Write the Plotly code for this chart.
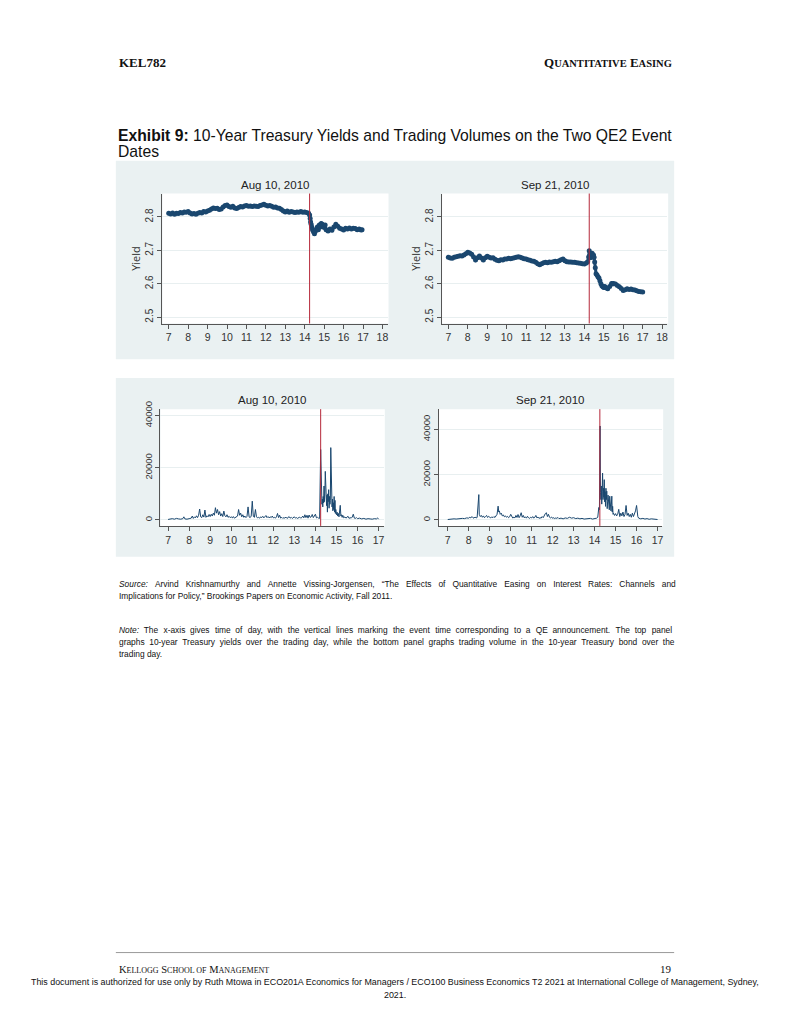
import plotly.graph_objects as go

# Page geometry (the chart is a full PDF page)
PAGE_W, PAGE_H = 791, 1024

NAVY = "#1a476f"
EVENT_RED = "#b5283a"
PANEL_BG = "#eaf1f2"
GRID = "#e8eff0"
AXIS = "#555555"

EVENT_TIME = 14.25
DATES = ["Aug 10, 2010", "Sep 21, 2010"]

YIELD_HOURS = [7, 8, 9, 10, 11, 12, 13, 14, 15, 16, 17, 18]
YIELD_TICKS = [2.5, 2.6, 2.7, 2.8]
VOL_HOURS = [7, 8, 9, 10, 11, 12, 13, 14, 15, 16, 17]
VOL_TICKS = [0, 20000, 40000]

# 10-year yield, Aug 10 2010 (hour of day, percent)
AUG_YIELD_T = [
    7.00, 7.10, 7.20, 7.30, 7.40, 7.50, 7.60, 7.70, 7.80, 7.90, 8.00, 8.10, 8.20, 8.30,
    8.40, 8.50, 8.60, 8.70, 8.80, 8.90, 9.00, 9.10, 9.20, 9.30, 9.40, 9.50, 9.60, 9.70,
    9.80, 9.90, 10.00, 10.10, 10.20, 10.30, 10.40, 10.50, 10.60, 10.70, 10.80, 10.90,
    11.00, 11.10, 11.20, 11.30, 11.40, 11.50, 11.60, 11.70, 11.80, 11.90, 12.00, 12.10,
    12.20, 12.30, 12.40, 12.50, 12.60, 12.70, 12.80, 12.90, 13.00, 13.10, 13.20, 13.30,
    13.40, 13.50, 13.60, 13.70, 13.80, 13.90, 14.00, 14.10, 14.20, 14.25, 14.28, 14.30,
    14.33, 14.36, 14.40, 14.45, 14.50, 14.55, 14.60, 14.65, 14.70, 14.75, 14.80, 14.85,
    14.90, 14.95, 15.00, 15.05, 15.10, 15.20, 15.30, 15.40, 15.50, 15.60, 15.70, 15.80,
    15.90, 16.00, 16.10, 16.20, 16.30, 16.40, 16.50, 16.60, 16.70, 16.80, 16.90, 16.95,
]
AUG_YIELD = [
    2.811, 2.809, 2.812, 2.808, 2.811, 2.810, 2.813, 2.812, 2.815, 2.814, 2.816, 2.812, 2.809, 2.810,
    2.808, 2.811, 2.813, 2.812, 2.816, 2.815, 2.818, 2.820, 2.824, 2.827, 2.825, 2.826, 2.822, 2.824,
    2.830, 2.834, 2.836, 2.831, 2.829, 2.832, 2.827, 2.825, 2.828, 2.831, 2.830, 2.833,
    2.834, 2.832, 2.833, 2.831, 2.833, 2.832, 2.831, 2.834, 2.836, 2.838, 2.835, 2.833,
    2.834, 2.832, 2.829, 2.830, 2.827, 2.826, 2.822, 2.818, 2.815, 2.818, 2.814, 2.816,
    2.815, 2.813, 2.815, 2.814, 2.816, 2.814, 2.815, 2.813, 2.811, 2.806, 2.795, 2.785,
    2.778, 2.770, 2.762, 2.756, 2.750, 2.757, 2.764, 2.770, 2.762, 2.776, 2.770, 2.780,
    2.778, 2.772, 2.768, 2.776, 2.762, 2.758, 2.764, 2.760, 2.770, 2.778, 2.772, 2.766,
    2.764, 2.761, 2.766, 2.764, 2.767, 2.764, 2.766, 2.765, 2.762, 2.764, 2.761, 2.762,
]

# 10-year yield, Sep 21 2010
SEP_YIELD_T = [
    7.00, 7.10, 7.20, 7.30, 7.40, 7.50, 7.60, 7.70, 7.80, 7.90, 8.00, 8.10, 8.20, 8.30,
    8.40, 8.50, 8.60, 8.70, 8.80, 8.90, 9.00, 9.10, 9.20, 9.30, 9.40, 9.50, 9.60, 9.70,
    9.80, 9.90, 10.00, 10.10, 10.20, 10.30, 10.40, 10.50, 10.60, 10.70, 10.80, 10.90,
    11.00, 11.10, 11.20, 11.30, 11.40, 11.50, 11.60, 11.70, 11.80, 11.90, 12.00, 12.10,
    12.20, 12.30, 12.40, 12.50, 12.60, 12.70, 12.80, 12.90, 13.00, 13.10, 13.20, 13.30,
    13.40, 13.50, 13.60, 13.70, 13.80, 13.90, 14.00, 14.10, 14.17, 14.22, 14.25, 14.28,
    14.31, 14.35, 14.40, 14.43, 14.47, 14.50, 14.53, 14.56, 14.60, 14.65, 14.70, 14.75,
    14.80, 14.85, 14.90, 14.95, 15.00, 15.05, 15.10, 15.20, 15.30, 15.40, 15.45, 15.50,
    15.60, 15.70, 15.80, 15.90, 16.00, 16.10, 16.20, 16.30, 16.40, 16.50, 16.60, 16.70,
    16.80, 16.90, 17.00,
]
SEP_YIELD = [
    2.679, 2.677, 2.676, 2.679, 2.681, 2.682, 2.684, 2.683, 2.686, 2.690, 2.694, 2.692, 2.688, 2.680,
    2.671, 2.678, 2.683, 2.677, 2.671, 2.678, 2.682, 2.679, 2.677, 2.678, 2.673, 2.670, 2.669, 2.672,
    2.671, 2.674, 2.674, 2.676, 2.675, 2.676, 2.678, 2.679, 2.681, 2.679, 2.677, 2.675,
    2.674, 2.672, 2.670, 2.668, 2.667, 2.664, 2.660, 2.657, 2.660, 2.663, 2.664, 2.663,
    2.665, 2.664, 2.666, 2.667, 2.666, 2.669, 2.672, 2.674, 2.669, 2.666, 2.665, 2.665,
    2.664, 2.664, 2.663, 2.662, 2.661, 2.660, 2.659, 2.662, 2.666, 2.680, 2.699, 2.685,
    2.678, 2.688, 2.691, 2.680, 2.686, 2.679, 2.665, 2.648, 2.630, 2.626, 2.621, 2.617,
    2.609, 2.600, 2.594, 2.591, 2.589, 2.592, 2.588, 2.585, 2.592, 2.601, 2.599, 2.601,
    2.599, 2.595, 2.591, 2.586, 2.580, 2.582, 2.585, 2.583, 2.584, 2.582, 2.581, 2.579,
    2.577, 2.576, 2.575,
]

# Trading volume, Aug 10 2010
AUG_VOL_T = [
    7.00, 7.10, 7.20, 7.30, 7.40, 7.50, 7.60, 7.70, 7.75, 7.80, 7.90, 8.00, 8.10, 8.15, 8.20,
    8.25, 8.30, 8.35, 8.40, 8.45, 8.50, 8.55, 8.60, 8.65, 8.70, 8.75, 8.80, 8.85, 8.90, 8.95,
    9.00, 9.05, 9.10, 9.15, 9.20, 9.25, 9.30, 9.35, 9.40, 9.45, 9.50, 9.55, 9.60, 9.65, 9.70,
    9.75, 9.80, 9.85, 9.90, 9.95, 10.00, 10.05, 10.10, 10.15, 10.20, 10.25, 10.30, 10.35,
    10.40, 10.45, 10.50, 10.55, 10.60, 10.65, 10.70, 10.75, 10.80, 10.85, 10.90, 10.95,
    11.00, 11.05, 11.10, 11.15, 11.20, 11.25, 11.30, 11.35, 11.40, 11.45, 11.50, 11.55,
    11.60, 11.65, 11.70, 11.75, 11.80, 11.85, 11.90, 11.95, 12.00, 12.05, 12.10, 12.15,
    12.20, 12.25, 12.30, 12.35, 12.40, 12.45, 12.50, 12.55, 12.60, 12.65, 12.70, 12.75,
    12.80, 12.85, 12.90, 12.95, 13.00, 13.05, 13.10, 13.15, 13.20, 13.25, 13.30, 13.35,
    13.40, 13.45, 13.50, 13.55, 13.60, 13.65, 13.70, 13.75, 13.80, 13.85, 13.90, 13.95,
    14.00, 14.05, 14.10, 14.15, 14.20,
    14.25, 14.27, 14.29, 14.31, 14.33, 14.35, 14.37, 14.39, 14.41, 14.43, 14.45, 14.47,
    14.49, 14.51, 14.53, 14.55, 14.57, 14.59, 14.61, 14.63, 14.65, 14.67, 14.69, 14.71,
    14.73, 14.75, 14.77, 14.79, 14.81, 14.83, 14.85, 14.87, 14.89, 14.91, 14.93, 14.95,
    14.97, 15.00, 15.03, 15.06, 15.09, 15.12, 15.15, 15.18, 15.21, 15.24, 15.27, 15.30,
    15.35, 15.40, 15.45, 15.50, 15.55, 15.60, 15.65, 15.70, 15.75, 15.80, 15.85, 15.90,
    15.95, 16.00, 16.10, 16.20, 16.30, 16.40, 16.50, 16.60, 16.70, 16.80, 16.90, 16.95,
    17.00,
]
AUG_VOL = [
    200, 300, 500, 300, 600, 400, 300, 500, 1200, 400, 300, 500, 700, 1500, 600,
    1200, 800, 1600, 900, 1800, 4200, 1200, 900, 2000, 1100, 3800, 1000, 1600, 1200, 2100,
    1300, 2200, 1500, 2600, 1800, 4700, 2600, 4000, 2000, 3200, 1500, 2400, 1300, 3400, 1600,
    1200, 2000, 1000, 1400, 900, 1200, 800, 1300, 700, 900, 1100, 1500, 4000,
    1800, 2600, 1200, 2000, 1000, 1500, 900, 1400, 5000, 1200, 900, 1500,
    7200, 1400, 1000, 4000, 1200, 800, 1000, 700, 1200, 900, 1400, 800,
    1100, 1700, 900, 1300, 800, 1200, 900, 1500, 800, 1000, 700, 1200,
    2500, 900, 1800, 700, 1000, 600, 900, 700, 1100, 600, 900, 1300,
    700, 1000, 600, 900, 1200, 700, 900, 600, 800, 1100, 700, 900,
    1500, 800, 2000, 900, 1800, 700, 1900, 1000, 1200, 2100, 900, 1500,
    2200, 800, 1000, 700, 600,
    27000, 12000, 19000, 6000, 8000, 5000, 9000, 6500, 13000, 7000, 10000, 18600,
    8000, 12000, 5500, 9500, 3000, 10000, 7000, 11600, 4500, 9000, 6000, 7500,
    27700, 12000, 22000, 5000, 8000, 3500, 6600, 4000, 9000, 3000, 7500, 2500,
    4000, 2000, 3000, 1500, 2500, 1200, 3500, 5600, 1500, 2000, 1000, 1800,
    800, 1200, 700, 900, 1400, 600, 900, 700, 1100, 2200, 700, 600,
    900, 500, 700, 400, 600, 300, 500, 400, 300, 500, 400, 800,
    300,
]

# Trading volume, Sep 21 2010
SEP_VOL_T = [
    7.00, 7.10, 7.20, 7.30, 7.40, 7.50, 7.60, 7.70, 7.80, 7.90, 8.00, 8.05, 8.10, 8.15, 8.20,
    8.25, 8.30, 8.35, 8.40, 8.45, 8.48, 8.50, 8.55, 8.60, 8.65, 8.70, 8.75, 8.80, 8.85, 8.90,
    8.95, 9.00, 9.05, 9.10, 9.15, 9.20, 9.25, 9.30, 9.35, 9.40, 9.43, 9.46, 9.50, 9.55, 9.60,
    9.65, 9.70, 9.75, 9.80, 9.85, 9.90, 9.95, 10.00, 10.05, 10.10, 10.15, 10.20, 10.25,
    10.30, 10.35, 10.40, 10.45, 10.50, 10.55, 10.60, 10.65, 10.70, 10.75, 10.80, 10.85,
    10.90, 10.95, 11.00, 11.05, 11.10, 11.15, 11.20, 11.25, 11.30, 11.35, 11.40, 11.45,
    11.50, 11.55, 11.60, 11.65, 11.70, 11.75, 11.80, 11.85, 11.90, 11.95, 12.00, 12.05,
    12.10, 12.15, 12.20, 12.25, 12.30, 12.40, 12.50, 12.60, 12.70, 12.80, 12.90, 13.00,
    13.10, 13.20, 13.30, 13.40, 13.50, 13.60, 13.70, 13.80, 13.90, 14.00, 14.05, 14.10,
    14.15, 14.20, 14.23,
    14.26, 14.28, 14.30, 14.32, 14.34, 14.36, 14.38, 14.40, 14.42, 14.44, 14.46, 14.48,
    14.50, 14.52, 14.54, 14.56, 14.58, 14.60, 14.62, 14.64, 14.66, 14.68, 14.70, 14.72,
    14.74, 14.76, 14.78, 14.80, 14.82, 14.84, 14.86, 14.88, 14.90, 14.95, 15.00, 15.05,
    15.10, 15.15, 15.20, 15.25, 15.30, 15.35, 15.40, 15.45, 15.50, 15.55, 15.60, 15.65,
    15.70, 15.75, 15.80, 15.85, 15.90, 15.95, 16.00, 16.03, 16.06, 16.10, 16.20, 16.30,
    16.40, 16.50, 16.60, 16.70, 16.80, 16.90, 17.00,
]
SEP_VOL = [
    200, 400, 300, 500, 400, 600, 500, 700, 600, 900, 800, 1200, 900, 1500, 1000,
    800, 1300, 900, 1100, 6000, 11200, 2500, 1500, 2000, 1200, 1800, 1000, 1500, 2000, 1100,
    1600, 1200, 900, 1400, 1000, 1500, 1100, 1800, 2500, 6100, 3500, 4000, 2500, 3000, 1800,
    2200, 1400, 1800, 1200, 1600, 1000, 1400, 2500, 1200, 800, 1300, 900, 2000,
    1100, 2400, 1000, 1800, 3200, 1200, 2000, 900, 1400, 800, 1600, 1000,
    700, 1200, 900, 1500, 800, 1200, 2000, 900, 1300, 700, 1000, 800,
    1500, 1000, 2200, 2800, 3200, 1500, 2500, 1200, 900, 1300, 700, 1000,
    600, 900, 700, 1100, 600, 800, 500, 900, 700, 1200, 800, 1000,
    600, 800, 500, 700, 400, 600, 500, 700, 400, 600, 500, 800,
    1200, 5500, 4500,
    41500, 12000, 9000, 15000, 7000, 12500, 20700, 9000, 14000, 10000, 17800, 8000,
    12500, 6000, 14000, 9000, 12700, 5000, 8000, 11000, 6000, 9000, 4500, 10500,
    5500, 9000, 4000, 7000, 10500, 3500, 6000, 2500, 3000, 2000, 2800, 1800,
    2500, 4700, 1500, 3000, 1800, 3500, 1500, 2500, 6400, 2000, 3000, 1500,
    2500, 1200, 3000, 1500, 2500, 4000, 6400, 2000, 1500, 800, 500, 700,
    400, 600, 300, 500, 400, 300, 200,
]


def px(x):
    return x / PAGE_W


def py(y):
    return 1 - y / PAGE_H


# Panel layout in page pixels: (left, right, top, bottom) of the plot region
PANELS = [
    dict(n="", box=(162.7, 388.0, 187.0, 318.0), xr=[6.68, 18.26], yr=[2.481, 2.87],
         t=AUG_YIELD_T, v=AUG_YIELD, kind="yield", title=DATES[0]),
    dict(n="2", box=(442.7, 668.0, 187.0, 318.0), xr=[6.68, 18.26], yr=[2.481, 2.87],
         t=SEP_YIELD_T, v=SEP_YIELD, kind="yield", title=DATES[1]),
    dict(n="3", box=(160.7, 384.3, 404.3, 522.0), xr=[6.64, 17.25], yr=[-2280, 42430],
         t=AUG_VOL_T, v=AUG_VOL, kind="vol", title=DATES[0]),
    dict(n="4", box=(439.3, 663.0, 404.3, 522.0), xr=[6.57, 17.22], yr=[-2630, 48930],
         t=SEP_VOL_T, v=SEP_VOL, kind="vol", title=DATES[1]),
]

fig = go.Figure()
shapes = []
annotations = []

# light grey-blue graph regions behind each pair of panels
for top, bottom in [(154, 354), (373, 553)]:
    shapes.append(dict(type="rect", xref="paper", yref="paper", layer="below",
                       x0=px(116), x1=px(675), y0=py(bottom), y1=py(top),
                       fillcolor=PANEL_BG, line=dict(width=0)))

layout_axes = {}
for p in PANELS:
    l, r, t, b = p["box"]
    xa, ya = "x" + p["n"], "y" + p["n"]
    shapes.append(dict(type="rect", xref="paper", yref="paper", layer="below",
                       x0=px(l), x1=px(r + 1), y0=py(b), y1=py(t),
                       fillcolor="white", line=dict(width=0)))

    if p["kind"] == "yield":
        fig.add_trace(go.Scatter(
            x=p["t"], y=p["v"], xaxis=xa, yaxis=ya, mode="lines+markers",
            line=dict(color=NAVY, width=3),
            marker=dict(color=NAVY, size=5),
            showlegend=False, hoverinfo="x+y",
        ))
        hours, yt = YIELD_HOURS, YIELD_TICKS
        ytext = [f"{v:.1f}" for v in yt]
        ytitle = dict(text="Yield", font=dict(size=11, color="#333"), standoff=1)
        yfont = 10
    else:
        fig.add_trace(go.Scatter(
            x=p["t"], y=p["v"], xaxis=xa, yaxis=ya, mode="lines",
            line=dict(color=NAVY, width=1),
            showlegend=False, hoverinfo="x+y",
        ))
        hours, yt = VOL_HOURS, VOL_TICKS
        ytext = [str(v) for v in yt]
        ytitle = None
        yfont = 9.5

    # announcement time
    shapes.append(dict(type="line", xref=xa, yref=ya + " domain",
                       x0=EVENT_TIME, x1=EVENT_TIME, y0=0, y1=1,
                       line=dict(color=EVENT_RED, width=1)))

    layout_axes["xaxis" + p["n"]] = dict(
        domain=[px(l), px(r)], range=p["xr"], anchor=ya,
        tickvals=hours, ticktext=[str(h) for h in hours],
        ticks="outside", ticklen=4, tickcolor=AXIS,
        showline=True, linecolor=AXIS, linewidth=1,
        showgrid=False, zeroline=False,
        tickfont=dict(family="Liberation Sans, Arial", size=10.5, color="#333"),
        fixedrange=True,
    )
    yax = dict(
        domain=[py(b), py(t)], range=p["yr"], anchor=xa,
        tickvals=yt, ticktext=ytext, tickangle=-90,
        ticks="outside", ticklen=4, tickcolor=AXIS,
        showline=True, linecolor=AXIS, linewidth=1,
        showgrid=True, gridcolor=GRID, gridwidth=1, zeroline=False,
        tickfont=dict(family="Liberation Sans, Arial", size=yfont, color="#333"),
        fixedrange=True,
    )
    if ytitle:
        yax["title"] = ytitle
    layout_axes["yaxis" + p["n"]] = yax

    annotations.append(dict(
        text=p["title"], xref=xa + " domain", yref=ya + " domain", x=0.5, y=1,
        xanchor="center", yanchor="bottom", yshift=1, showarrow=False,
        font=dict(family="Liberation Sans, Arial", size=11.5, color="#222"),
    ))

SANS = "Liberation Sans, Arial, sans-serif"
SERIF = "Liberation Serif, Times New Roman, serif"


def note(text, x, y, size, family=SANS, anchor="left", color="#111"):
    annotations.append(dict(
        text=text, xref="paper", yref="paper", x=px(x), y=py(y),
        xanchor=anchor, yanchor="middle", showarrow=False, align=anchor,
        font=dict(family=family, size=size, color=color),
    ))


def justify(text, gap, alt=None):
    # widen word gaps so a full line of the paragraph fills the text column;
    # `alt` (if given) is used on every other gap for finer control
    words = text.split(" ")
    out = words[0]
    for i, w in enumerate(words[1:]):
        g = alt if (alt is not None and i % 2) else gap
        out += " " + g + w
    return out


# page header
note("<b>KEL782</b>", 117, 55, 13, SERIF)
note("<b>Q<span style='font-size:10.5px'>UANTITATIVE</span> "
     "E<span style='font-size:10.5px'>ASING</span></b>", 675, 55, 13, SERIF, "right")

# exhibit title
note("<b>Exhibit 9:</b> 10-Year Treasury Yields and Trading Volumes on the Two QE2 Event",
     116, 128, 15.7)
note("Dates", 116, 145, 15.7)

# source and note
note(justify("<i>Source:</i> Arvind Krishnamurthy and Annette Vissing-Jorgensen, \u201cThe Effects of "
             "Quantitative Easing on Interest Rates: Channels and", "\u00a0\u2009\u200a"),
     117, 581, 8.4)
note("Implications for Policy,\u201d Brookings Papers on Economic Activity, Fall 2011.",
     117, 593, 8.4)
note(justify("<i>Note:</i> The x-axis gives time of day, with the vertical lines marking the event "
             "time corresponding to a QE announcement. The top panel", "\u00a0", "\u00a0\u200a"),
     117, 627, 8.4)
note(justify("graphs 10-year Treasury yields over the trading day, while the bottom panel graphs "
             "trading volume in the 10-year Treasury bond over the", "\u00a0"), 117, 639, 8.4)
note("trading day.", 117, 651, 8.4)

# footer
shapes.append(dict(type="line", xref="paper", yref="paper",
                   x0=px(116), x1=px(675), y0=py(952), y1=py(952),
                   line=dict(color="#999999", width=1)))
note("K<span style='font-size:8px'>ELLOGG</span> S<span style='font-size:8px'>CHOOL OF</span> "
     "M<span style='font-size:8px'>ANAGEMENT</span>", 117, 969, 10.5, SERIF)
note("19", 675, 969, 11, SERIF, "right")
note("This document is authorized for use only by Ruth Mtowa in ECO201A Economics for Managers / "
     "ECO100 Business Economics T2 2021 at International College of Management, Sydney,",
     396, 982, 8.9, SANS, "center")
note("2021.", 396, 995, 8.9, SANS, "center")

fig.update_layout(
    width=PAGE_W, height=PAGE_H,
    margin=dict(l=0, r=0, t=0, b=0),
    paper_bgcolor="white", plot_bgcolor="white",
    shapes=shapes, annotations=annotations,
    showlegend=False,
    **layout_axes,
)

# the page itself should start at the window corner, like the scanned page
fig.write_html("out.html", config={"displayModeBar": False},
               post_script="document.body.style.margin='0';")
